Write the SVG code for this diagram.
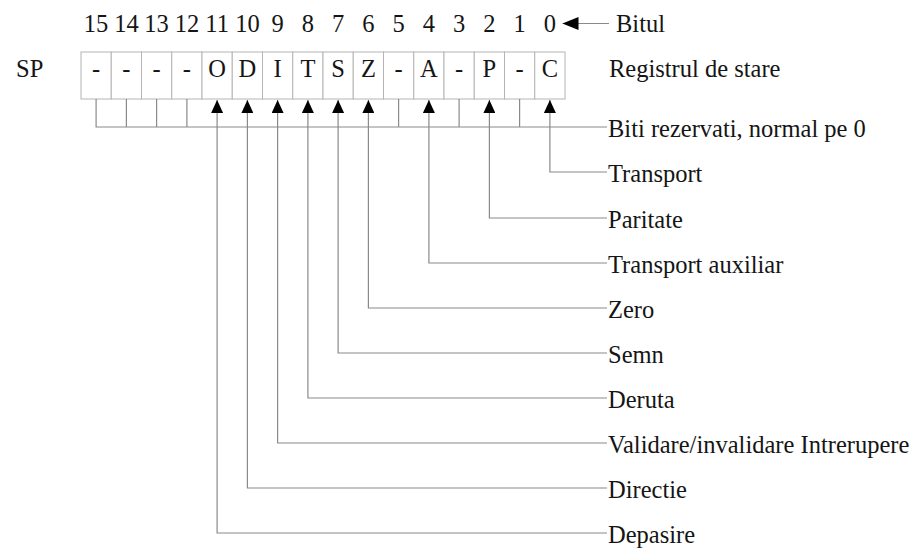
<svg xmlns="http://www.w3.org/2000/svg" width="922" height="550" viewBox="0 0 922 550">
  <style>
    text { font-family: "Liberation Serif", "Times New Roman", serif; font-size: 24.5px; fill: #151515; }
    .num { text-anchor: middle; }
    .cell rect { fill: #fff; stroke: #b4b4b4; stroke-width: 1; }
    .cell text { text-anchor: middle; }
    .wire { fill: none; stroke: #8a8a8a; stroke-width: 1.2; }
    .flag { fill: none; stroke: #8a8a8a; stroke-width: 1.2; marker-end: url(#head); }
    .pointer { fill: none; stroke: #8a8a8a; stroke-width: 1.2; marker-end: url(#head-long); }
  </style>
  <defs>
    <marker id="head" viewBox="0 0 13 12" refX="13" refY="6" markerWidth="13" markerHeight="12" markerUnits="userSpaceOnUse" orient="auto">
      <path d="M0,0 L13,6 L0,12 z" fill="#000"/>
    </marker>
    <marker id="head-long" viewBox="0 0 16 13" refX="16" refY="6.5" markerWidth="16" markerHeight="13" markerUnits="userSpaceOnUse" orient="auto">
      <path d="M0,0 L16,6.5 L0,13 z" fill="#000"/>
    </marker>
  </defs>

  <rect width="922" height="550" fill="#fff"/>

  <!-- bit numbers -->
  <g id="bit-numbers">
    <text class="num" x="96.1" y="31.5">15</text>
    <text class="num" x="126.4" y="31.5">14</text>
    <text class="num" x="156.6" y="31.5">13</text>
    <text class="num" x="186.9" y="31.5">12</text>
    <text class="num" x="217.1" y="31.5">11</text>
    <text class="num" x="247.4" y="31.5">10</text>
    <text class="num" x="277.6" y="31.5">9</text>
    <text class="num" x="307.9" y="31.5">8</text>
    <text class="num" x="338.1" y="31.5">7</text>
    <text class="num" x="368.4" y="31.5">6</text>
    <text class="num" x="398.6" y="31.5">5</text>
    <text class="num" x="428.9" y="31.5">4</text>
    <text class="num" x="459.1" y="31.5">3</text>
    <text class="num" x="489.4" y="31.5">2</text>
    <text class="num" x="519.6" y="31.5">1</text>
    <text class="num" x="549.9" y="31.5">0</text>
  </g>
  <g id="label-bitul"><text x="616" y="31.5">Bitul</text></g>
  <g id="label-sp"><text x="16" y="76.5">SP</text></g>
  <g id="label-registru"><text x="609" y="76.5">Registrul de stare</text></g>

  <!-- register cells, bit 15 on the left -->
  <g id="register">
    <g id="bit15" class="cell"><rect x="81" y="52" width="30.25" height="47"/><text x="96.1" y="76.5">-</text></g>
    <g id="bit14" class="cell"><rect x="111.25" y="52" width="30.25" height="47"/><text x="126.4" y="76.5">-</text></g>
    <g id="bit13" class="cell"><rect x="141.5" y="52" width="30.25" height="47"/><text x="156.6" y="76.5">-</text></g>
    <g id="bit12" class="cell"><rect x="171.75" y="52" width="30.25" height="47"/><text x="186.9" y="76.5">-</text></g>
    <g id="bit11" class="cell"><rect x="202" y="52" width="30.25" height="47"/><text x="217.1" y="76.5">O</text></g>
    <g id="bit10" class="cell"><rect x="232.25" y="52" width="30.25" height="47"/><text x="247.4" y="76.5">D</text></g>
    <g id="bit9" class="cell"><rect x="262.5" y="52" width="30.25" height="47"/><text x="277.6" y="76.5">I</text></g>
    <g id="bit8" class="cell"><rect x="292.75" y="52" width="30.25" height="47"/><text x="307.9" y="76.5">T</text></g>
    <g id="bit7" class="cell"><rect x="323" y="52" width="30.25" height="47"/><text x="338.1" y="76.5">S</text></g>
    <g id="bit6" class="cell"><rect x="353.25" y="52" width="30.25" height="47"/><text x="368.4" y="76.5">Z</text></g>
    <g id="bit5" class="cell"><rect x="383.5" y="52" width="30.25" height="47"/><text x="398.6" y="76.5">-</text></g>
    <g id="bit4" class="cell"><rect x="413.75" y="52" width="30.25" height="47"/><text x="428.9" y="76.5">A</text></g>
    <g id="bit3" class="cell"><rect x="444" y="52" width="30.25" height="47"/><text x="459.1" y="76.5">-</text></g>
    <g id="bit2" class="cell"><rect x="474.25" y="52" width="30.25" height="47"/><text x="489.4" y="76.5">P</text></g>
    <g id="bit1" class="cell"><rect x="504.5" y="52" width="30.25" height="47"/><text x="519.6" y="76.5">-</text></g>
    <g id="bit0" class="cell"><rect x="534.75" y="52" width="30.25" height="47"/><text x="549.9" y="76.5">C</text></g>
  </g>

  <!-- flag descriptions -->
  <g id="label-rezervati"><text x="608" y="137">Biti rezervati, normal pe 0</text></g>
  <g id="label-transport"><text x="608" y="182">Transport</text></g>
  <g id="label-paritate"><text x="608" y="228">Paritate</text></g>
  <g id="label-auxiliar"><text x="608" y="273">Transport auxiliar</text></g>
  <g id="label-zero"><text x="608" y="318">Zero</text></g>
  <g id="label-semn"><text x="608" y="363">Semn</text></g>
  <g id="label-deruta"><text x="608" y="408">Deruta</text></g>
  <g id="label-intrerupere"><text x="608" y="453">Validare/invalidare Intrerupere</text></g>
  <g id="label-directie"><text x="608" y="498">Directie</text></g>
  <g id="label-depasire"><text x="608" y="543">Depasire</text></g>

  <!-- connectors -->
  <g id="connectors">
    <path class="pointer" d="M609,23.5 H562.5"/>
    <!-- reserved bits bus -->
    <path class="wire" d="M96.1,99 V127 H607 M126.4,99 V127 M156.6,99 V127 M186.9,99 V127 M398.6,99 V127 M459.1,99 V127 M519.6,99 V127"/>
    <!-- flag leaders -->
    <path class="flag" d="M607,172 H549.9 V100"/>
    <path class="flag" d="M607,218 H489.4 V100"/>
    <path class="flag" d="M607,263 H428.9 V100"/>
    <path class="flag" d="M607,308 H368.4 V100"/>
    <path class="flag" d="M607,353 H338.1 V100"/>
    <path class="flag" d="M607,398 H307.9 V100"/>
    <path class="flag" d="M607,443 H277.6 V100"/>
    <path class="flag" d="M607,488 H247.4 V100"/>
    <path class="flag" d="M607,533 H217.1 V100"/>
  </g>
</svg>
